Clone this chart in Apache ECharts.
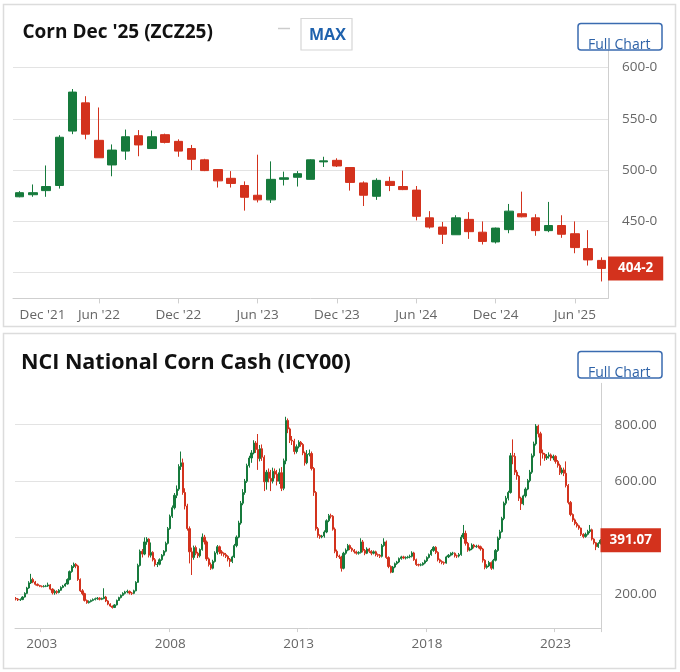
<!DOCTYPE html>
<html><head><meta charset="utf-8">
<script src="https://cdn.jsdelivr.net/npm/echarts@6/dist/echarts.min.js"></script>
<style>html,body{margin:0;padding:0;background:#fff}#c{width:680px;height:672px}</style>
</head><body><div id="c"></div>
<script>
// ---------- Corn Dec '25 (ZCZ25), monthly candles [open, close, low, high] ----------
const zczMonths = ['2021-12','2022-01','2022-02','2022-03','2022-04','2022-05','2022-06','2022-07','2022-08','2022-09','2022-10','2022-11','2022-12',
  '2023-01','2023-02','2023-03','2023-04','2023-05','2023-06','2023-07','2023-08','2023-09','2023-10','2023-11','2023-12',
  '2024-01','2024-02','2024-03','2024-04','2024-05','2024-06','2024-07','2024-08','2024-09','2024-10','2024-11','2024-12',
  '2025-01','2025-02','2025-03','2025-04','2025-05','2025-06','2025-07','2025-08'];
const zczOHLC = [
  [474,478,473.5,479.5],[476,478,474,486],[480,484,474,504.5],[485,532,482,534],[538,576,535,579],[565.5,535,530,572],
  [529,512,512,561],[505,519.5,494,525],[518.5,532.5,510,539.5],[533.5,524.5,513.5,539],[521,532.5,521,538.5],[534.5,527,526,535.5],
  [528,518.5,513,530],[521,510.5,500,524.5],[510,499.5,499,511],[500.5,489.5,483,501],[492,487,483,499],[485,473.5,460.5,489],
  [475.5,471,468.5,515],[471,491,468,508.5],[491,492.5,485,498.5],[493,496.5,484,499],[491,510,491,510.5],[508,509,503,513],
  [509.5,504,503,511.5],[502.5,488,480,503],[487.5,475.5,465,489],[474.5,490,471,492],[489,485,479.5,493.5],[484,481,480.5,499.5],
  [480.5,455,451,484.5],[453.5,444.5,443,460],[444.5,437.5,428,449.5],[437,453.5,437,456],[452,440,433,459],[439.5,430.5,427.5,450],
  [430,443.5,428.5,444],[442,460,438.5,467],[457.5,454.5,454,479],[453.5,441,436,457],[441,446,439.5,469],[446,437.5,434,456],
  [438,424.5,419,450],[423.5,412.5,407,441.5],[412,404.25,391.5,415]
];
const zczLast = 404.25;
const zczLastLabel = '404-2';
const zczTicks = [400, 450, 500, 550, 600];

// ---------- NCI National Corn Cash (ICY00), monthly candles [open, close, low, high] ----------
const icy2002 = [[185,183,178,190],[183,180,176,186],[180,181,176,185],[181,190,179,193],[190,203,188,207],[203,222,200,226],[222,240,219,246],[240,252,236,272],[252,243,239,258],[243,235,231,247],[235,231,228,238],[231,228,225,233]];
const icy2003 = [[228,227,224,231],[227,228,224,232],[228,229,225,233],[229,233,226,241],[233,218,214,236],[218,205,199,221],[205,210,198,216],[210,206,200,214],[206,214,203,218],[214,224,212,228],[224,229,221,233],[229,236,227,240]];
const icy2004 = [[236,252,234,256],[252,280,249,284],[280,298,276,303],[298,306,293,312],[306,300,292,310],[300,252,247,304],[252,212,208,256],[212,202,196,218],[202,178,174,205],[178,170,166,181],[170,174,167,178],[174,178,171,181]];
const icy2005 = [[178,181,175,185],[181,184,178,188],[184,186,180,190],[186,182,178,189],[182,185,179,188],[185,190,182,221],[190,176,172,194],[176,165,161,179],[165,158,155,168],[158,153,149,160],[153,162,151,165],[162,178,160,181]];
const icy2006 = [[178,188,176,191],[188,196,185,199],[196,203,193,207],[203,208,199,212],[208,210,203,216],[210,204,199,213],[204,203,197,208],[203,212,200,216],[212,242,210,246],[242,302,240,308],[302,352,298,358],[352,342,330,360]];
const icy2007 = [[342,385,338,401],[385,395,375,402],[395,338,330,398],[338,348,330,383],[348,322,316,352],[322,305,298,328],[305,306,296,314],[306,322,302,327],[322,338,318,342],[338,352,334,356],[352,380,348,386],[380,432,376,438]];
const icy2008 = [[432,476,428,482],[476,506,470,514],[506,550,500,558],[550,572,540,585],[572,652,566,660],[652,665,640,705],[665,560,552,680],[560,512,500,575],[512,432,425,520],[432,350,309,440],[350,330,268,365],[330,365,322,372]];
const icy2009 = [[365,345,338,372],[345,336,328,350],[336,358,330,362],[358,402,354,415],[402,385,376,410],[385,325,318,390],[325,305,298,330],[305,292,286,312],[292,316,288,322],[316,346,312,352],[346,368,340,374],[368,350,342,372]];
const icy2010 = [[350,345,336,356],[345,340,333,348],[340,334,328,346],[334,324,316,338],[324,316,297,328],[316,332,310,336],[332,372,328,378],[372,402,366,408],[402,452,398,460],[452,522,446,530],[522,560,515,572],[560,600,552,608]];
const icy2011 = [[600,655,594,662],[655,682,648,690],[682,700,665,710],[700,735,695,745],[735,712,700,742],[712,680,640,767],[680,715,670,728],[715,685,672,730],[685,598,565,692],[598,632,570,640],[632,610,596,645],[610,600,565,640]];
const icy2012 = [[600,635,592,648],[635,625,610,645],[625,600,585,640],[600,630,590,645],[630,575,565,650],[575,672,568,680],[672,815,660,828],[815,785,770,822],[785,745,735,790],[745,742,728,760],[742,705,695,750],[705,722,698,730]];
const icy2013 = [[722,738,716,745],[738,730,722,742],[730,700,692,735],[700,665,655,705],[665,695,660,710],[695,698,688,712],[698,645,638,705],[645,560,548,650],[560,432,425,565],[432,408,400,438],[408,403,396,412],[403,406,398,410]];
const icy2014 = [[406,420,400,426],[420,460,416,465],[460,478,455,484],[478,476,468,485],[476,430,425,480],[430,352,345,436],[352,335,328,358],[335,332,325,340],[332,292,280,336],[292,345,288,350],[345,356,340,362],[356,372,352,378]];
const icy2015 = [[372,362,356,376],[362,356,350,366],[356,350,344,360],[350,345,340,354],[345,348,340,352],[348,385,344,398],[385,355,348,392],[355,345,338,360],[345,360,342,366],[360,352,346,364],[352,345,338,356],[345,350,341,355]];
const icy2016 = [[350,340,334,354],[340,338,332,344],[338,334,328,342],[334,372,330,378],[372,385,368,398],[385,330,325,390],[330,298,292,334],[298,278,274,302],[278,296,275,300],[296,308,292,312],[308,314,304,318],[314,326,310,330]];
const icy2017 = [[326,332,322,336],[332,328,324,336],[328,330,323,334],[330,332,326,336],[332,334,327,340],[334,346,330,352],[346,322,318,350],[322,305,300,326],[305,303,298,308],[303,304,299,309],[304,310,301,313],[310,318,306,322]];
const icy2018 = [[318,330,314,334],[330,340,326,344],[340,355,336,360],[355,366,350,370],[366,348,342,370],[348,322,316,352],[322,316,310,326],[316,312,306,320],[312,310,304,316],[310,332,308,336],[332,338,328,342],[338,345,334,348]];
const icy2019 = [[345,345,338,350],[345,336,330,348],[336,335,328,340],[335,340,330,346],[340,402,336,410],[402,415,395,445],[415,380,372,425],[380,356,350,385],[356,360,352,366],[360,374,356,380],[374,368,362,378],[368,370,364,375]];
const icy2020 = [[370,368,362,375],[368,360,354,372],[360,320,312,364],[320,295,288,324],[295,300,290,306],[300,312,296,318],[312,292,286,316],[292,320,288,325],[320,355,316,360],[355,398,350,404],[398,421,392,428],[421,468,418,474]];
const icy2021 = [[468,522,462,528],[522,540,515,548],[540,560,532,566],[560,690,556,700],[690,688,660,748],[688,632,622,700],[632,618,605,640],[618,540,530,622],[540,520,498,545],[520,548,515,552],[548,572,542,578],[572,602,568,608]];
const icy2022 = [[602,632,596,640],[632,690,626,698],[690,732,684,740],[732,795,726,802],[795,768,755,800],[768,700,655,775],[700,695,680,712],[695,682,672,700],[682,688,675,696],[688,693,680,702],[693,682,672,698],[682,688,674,694]];
const icy2023 = [[688,670,662,692],[670,656,648,675],[656,630,622,662],[630,640,624,648],[640,628,618,648],[628,585,578,670],[585,525,518,590],[525,482,476,530],[482,463,456,486],[463,450,444,468],[450,442,436,456],[442,434,428,446]];
const icy2024 = [[434,412,406,436],[412,404,398,416],[404,412,400,418],[412,422,408,428],[422,428,416,445],[428,395,390,432],[395,382,376,398],[382,368,356,385],[368,380,364,384],[380,391.07,376,395]];
const icyYears = [2002,2003,2004,2005,2006,2007,2008,2009,2010,2011,2012,2013,2014,2015,2016,2017,2018,2019,2020,2021,2022,2023,2024];
const icyByYear = [icy2002,icy2003,icy2004,icy2005,icy2006,icy2007,icy2008,icy2009,icy2010,icy2011,icy2012,icy2013,icy2014,icy2015,icy2016,icy2017,icy2018,icy2019,icy2020,icy2021,icy2022,icy2023,icy2024];
const icyLast = 391.07;
const icyLastLabel = '391.07';
const icyTicks = [200, 400, 600, 800];
const icyLabelYears = [2003, 2008, 2013, 2018, 2023];

// ---------- build ----------
const icyMonths = [], icyOHLC = [];
icyByYear.forEach((arr, k) => arr.forEach((row, m) => {
  icyMonths.push(icyYears[k] + '-' + String(m + 1).padStart(2, '0'));
  icyOHLC.push(row);
}));
const MON = ['Jan','Feb','Mar','Apr','May','Jun','Jul','Aug','Sep','Oct','Nov','Dec'];
const GREEN = '#167a3c', RED = '#d3321d';
const FONT = '"Open Sans", "Noto Sans", sans-serif';
const T = 'rgba(0,0,0,0)', G = '#e3e3e3';

const zczShow = (i, v) => { const m = +v.slice(5); return m === 6 || m === 12; };
const icyShow = (i, v) => v.slice(5) === '01' && icyLabelYears.includes(+v.slice(0, 4));

const chart = echarts.init(document.getElementById('c'), null, {renderer: 'canvas'});
chart.setOption({
  animation: false,
  backgroundColor: '#fff',
  textStyle: {fontFamily: FONT},
  grid: [
    {left: 13, top: 50, width: 595, height: 248.4, outerBoundsMode: 'none', containLabel: false},
    {left: 15, top: 383.3, width: 586.5, height: 244.8, outerBoundsMode: 'none', containLabel: false}
  ],
  xAxis: [
    {type: 'category', gridIndex: 0, data: zczMonths, boundaryGap: true,
     axisLine: {lineStyle: {color: '#cfcfcf', width: 1}},
     axisTick: {show: true, alignWithLabel: true, length: 5, lineStyle: {color: '#cfcfcf'},
                interval: (i, v) => i > 0 && zczShow(i, v)},
     axisLabel: {interval: zczShow, color: '#666', fontSize: 13.5, fontFamily: FONT, margin: 10,
                 alignMinLabel: 'left', showMinLabel: true,
                 formatter: v => MON[+v.slice(5) - 1] + " '" + v.slice(2, 4)},
     splitLine: {show: false}},
    {type: 'category', gridIndex: 1, data: icyMonths, boundaryGap: true,
     axisLine: {lineStyle: {color: '#cfcfcf', width: 1}},
     axisTick: {show: true, alignWithLabel: false, length: 4, lineStyle: {color: '#cfcfcf'}, interval: icyShow},
     axisLabel: {interval: icyShow, color: '#666', fontSize: 13.5, fontFamily: FONT, margin: 9,
                 formatter: v => v.slice(0, 4)},
     splitLine: {show: false}}
  ],
  yAxis: [
    {type: 'value', gridIndex: 0, position: 'right', min: 375, max: 617, interval: 25, scale: true,
     axisLine: {show: true, lineStyle: {color: '#cfcfcf'}}, axisTick: {show: false},
     axisLabel: {color: '#666', fontSize: 13.5, fontFamily: FONT, margin: 14,
                 formatter: v => zczTicks.includes(v) ? v + '-0' : ''},
     splitLine: {show: true, lineStyle: {color: [T, G], width: 1.2}}},
    {type: 'value', gridIndex: 1, position: 'right', min: 80, max: 946.5, interval: 40, scale: true,
     axisLine: {show: true, lineStyle: {color: '#cfcfcf'}}, axisTick: {show: false},
     axisLabel: {color: '#666', fontSize: 13.5, fontFamily: FONT, margin: 13,
                 formatter: v => icyTicks.includes(v) ? v.toFixed(2) : ''},
     splitLine: {show: true, lineStyle: {color: [T, T, T, G, T], width: 1.2}}}
  ],
  series: [
    {type: 'candlestick', xAxisIndex: 0, yAxisIndex: 0, data: zczOHLC, barWidth: '68%',
     itemStyle: {color: GREEN, color0: RED, borderColor: GREEN, borderColor0: RED, borderWidth: 1},
     markLine: {silent: true, symbol: ['none', 'none'], animation: false,
       lineStyle: {color: T, width: 0},
       label: {show: true, position: 'end', distance: 0, formatter: zczLastLabel,
               backgroundColor: RED, color: '#fff', fontWeight: 'bold', fontSize: 13.5, fontFamily: FONT,
               lineHeight: 14, padding: [5, 10, 5, 10]},
       data: [{yAxis: zczLast}]}},
    {type: 'candlestick', xAxisIndex: 1, yAxisIndex: 1, data: icyOHLC, barWidth: '78%',
     itemStyle: {color: GREEN, color0: RED, borderColor: GREEN, borderColor0: RED, borderWidth: 1},
     markLine: {silent: true, symbol: ['none', 'none'], animation: false,
       lineStyle: {color: T, width: 0},
       label: {show: true, position: 'end', distance: -1, formatter: icyLastLabel,
               backgroundColor: RED, color: '#fff', fontWeight: 'bold', fontSize: 13.5, fontFamily: FONT,
               lineHeight: 14, padding: [5, 9, 5, 9]},
       data: [{yAxis: icyLast}]}}
  ],
  graphic: [
    {type: 'rect', silent: true, z: -10, shape: {x: 3.5, y: 4.5, width: 672, height: 322},
     style: {fill: 'none', stroke: '#dcdcdc', lineWidth: 1.5}},
    {type: 'rect', silent: true, z: -10, shape: {x: 3.5, y: 333.5, width: 672, height: 335},
     style: {fill: 'none', stroke: '#dcdcdc', lineWidth: 1.5}},
    {type: 'text', silent: true, z: 10, style: {x: 22.5, y: 33, text: "Corn Dec '25 (ZCZ25)", fill: '#111',
     font: 'bold 19px ' + FONT, verticalAlign: 'middle', align: 'left'}},
    {type: 'line', silent: true, z: 10, shape: {x1: 278, y1: 28.5, x2: 290, y2: 28.5}, style: {stroke: '#cccccc', lineWidth: 1.5}},
    {type: 'rect', silent: true, z: 10, shape: {x: 301, y: 18.5, width: 51, height: 31.5},
     style: {fill: '#fff', stroke: '#d6d6d6', lineWidth: 1.2}},
    {type: 'text', silent: true, z: 11, style: {x: 309, y: 35.5, text: 'MAX', fill: '#1f62ad',
     font: 'bold 16px ' + FONT, verticalAlign: 'middle', align: 'left'}},
    {type: 'text', silent: true, z: 11, style: {x: 588, y: 45.5, text: 'Full Chart', fill: '#2f63a8',
     font: '14px ' + FONT, verticalAlign: 'middle', align: 'left'}},
    {type: 'rect', silent: true, z: 12, shape: {x: 578, y: 23.5, width: 84, height: 26.5, r: 3},
     style: {fill: 'none', stroke: '#3a6bb0', lineWidth: 1.5}},
    {type: 'text', silent: true, z: 10, style: {x: 21, y: 363, text: 'NCI National Corn Cash (ICY00)', fill: '#111',
     font: 'bold 21.5px ' + FONT, verticalAlign: 'middle', align: 'left'}},
    {type: 'text', silent: true, z: 11, style: {x: 588, y: 373.5, text: 'Full Chart', fill: '#2f63a8',
     font: '14px ' + FONT, verticalAlign: 'middle', align: 'left'}},
    {type: 'rect', silent: true, z: 12, shape: {x: 578, y: 351.5, width: 84, height: 26.5, r: 3},
     style: {fill: 'none', stroke: '#3a6bb0', lineWidth: 1.5}}
  ]
});
</script></body></html>
